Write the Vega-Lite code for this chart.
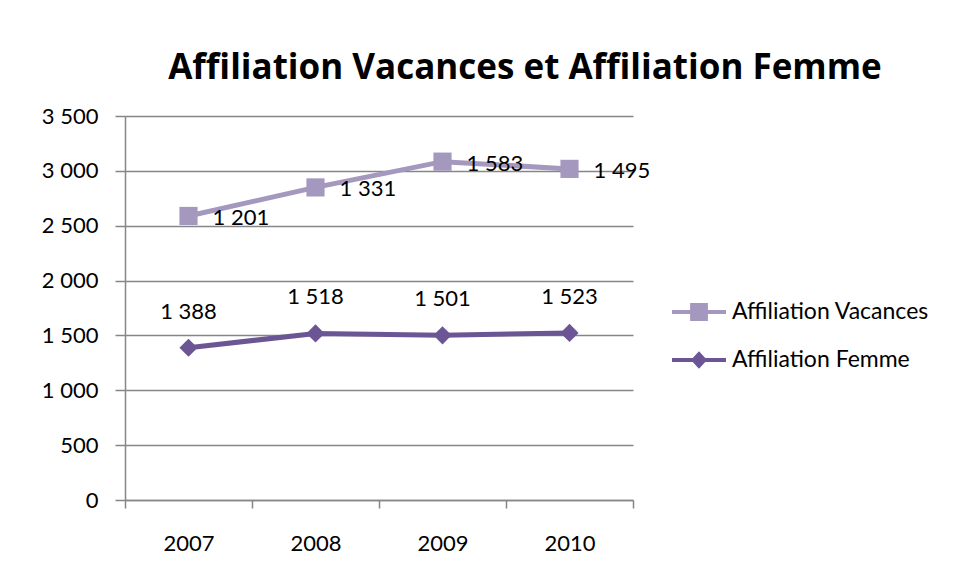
{
  "$schema": "https://vega.github.io/schema/vega-lite/v6.json",
  "width": 508,
  "height": 384,
  "autosize": {"type": "none"},
  "padding": {"left": 125, "top": 116, "right": 329, "bottom": 80},
  "background": "white",
  "title": {
    "text": "Affiliation Vacances et Affiliation Femme",
    "font": "Open Sans",
    "fontSize": 35,
    "fontWeight": "bold",
    "color": "#000000",
    "anchor": "middle",
    "frame": "group",
    "dx": 146,
    "offset": 19
  },
  "config": {
    "locale": {"number": {"decimal": ",", "thousands": " ", "grouping": [3], "currency": ["", " €"]}},
    "font": "Lato",
    "view": {"stroke": null},
    "axis": {
      "labelFont": "Lato",
      "labelFontSize": 22,
      "labelColor": "#000000",
      "domainColor": "#868686",
      "domainWidth": 1.5,
      "tickColor": "#868686",
      "tickWidth": 1.5,
      "gridColor": "#868686",
      "gridWidth": 1.5,
      "title": null
    }
  },
  "data": {
    "values": [
      {"year": "2007", "series": "Affiliation Vacances", "value": 1201},
      {"year": "2008", "series": "Affiliation Vacances", "value": 1331},
      {"year": "2009", "series": "Affiliation Vacances", "value": 1583},
      {"year": "2010", "series": "Affiliation Vacances", "value": 1495},
      {"year": "2007", "series": "Affiliation Femme", "value": 1388},
      {"year": "2008", "series": "Affiliation Femme", "value": 1518},
      {"year": "2009", "series": "Affiliation Femme", "value": 1501},
      {"year": "2010", "series": "Affiliation Femme", "value": 1523}
    ]
  },
  "transform": [
    {"stack": "value", "groupby": ["year"], "sort": [{"field": "series", "order": "ascending"}], "as": ["y0", "y1"]}
  ],
  "encoding": {
    "x": {
      "field": "year",
      "type": "ordinal",
      "scale": {"type": "band", "paddingInner": 0, "paddingOuter": 0},
      "axis": {"labelAngle": 0, "tickBand": "extent", "tickSize": 8, "labelPadding": 25, "grid": false}
    },
    "y": {
      "field": "y1",
      "type": "quantitative",
      "scale": {"domain": [0, 3500], "nice": false},
      "axis": {"values": [0, 500, 1000, 1500, 2000, 2500, 3000, 3500], "format": ",.0f", "tickSize": 10, "labelPadding": 17, "grid": true}
    }
  },
  "layer": [
    {
      "mark": {"type": "line", "strokeWidth": 5},
      "encoding": {
        "color": {
          "field": "series",
          "type": "nominal",
          "scale": {"domain": ["Affiliation Vacances", "Affiliation Femme"], "range": ["#A598BF", "#6B5594"]},
          "legend": {
            "title": null,
            "orient": "none",
            "legendX": 547,
            "legendY": 169,
            "labelFont": "Lato",
            "labelFontSize": 23,
            "labelColor": "#000000",
            "labelOffset": 6,
            "labelLimit": 400,
            "symbolSize": 2916,
            "rowPadding": 9,
            "encode": {
              "symbols": {
                "update": {
                  "shape": {"signal": "datum.value === 'Affiliation Vacances' ? 'M-1,-0.075H1V0.075H-1Z M-0.33,-0.33H0.33V0.33H-0.33Z' : 'M-1,-0.075H1V0.075H-1Z M0,-0.32L0.3,0L0,0.32L-0.3,0Z'"},
                  "fill": {"signal": "datum.value === 'Affiliation Vacances' ? '#A598BF' : '#6B5594'"},
                  "fillOpacity": {"value": 1},
                  "strokeWidth": {"value": 0}
                }
              }
            }
          }
        }
      }
    },
    {
      "transform": [{"filter": "datum.series === 'Affiliation Vacances'"}],
      "mark": {"type": "point", "shape": "square", "filled": true, "opacity": 1, "size": 330},
      "encoding": {"color": {"field": "series", "type": "nominal", "legend": null}}
    },
    {
      "transform": [{"filter": "datum.series === 'Affiliation Femme'"}],
      "mark": {"type": "point", "shape": "diamond", "filled": true, "opacity": 1, "size": 330},
      "encoding": {"color": {"field": "series", "type": "nominal", "legend": null}}
    },
    {
      "transform": [{"filter": "datum.series === 'Affiliation Vacances'"}],
      "mark": {"type": "text", "align": "left", "baseline": "middle", "dx": 24, "dy": 2, "fontSize": 22, "font": "Lato", "color": "#000000"},
      "encoding": {"text": {"field": "value", "type": "quantitative", "format": ","}}
    },
    {
      "transform": [{"filter": "datum.series === 'Affiliation Femme'"}],
      "mark": {"type": "text", "align": "center", "baseline": "middle", "dy": -36, "fontSize": 22, "font": "Lato", "color": "#000000"},
      "encoding": {"text": {"field": "value", "type": "quantitative", "format": ","}}
    }
  ]
}
